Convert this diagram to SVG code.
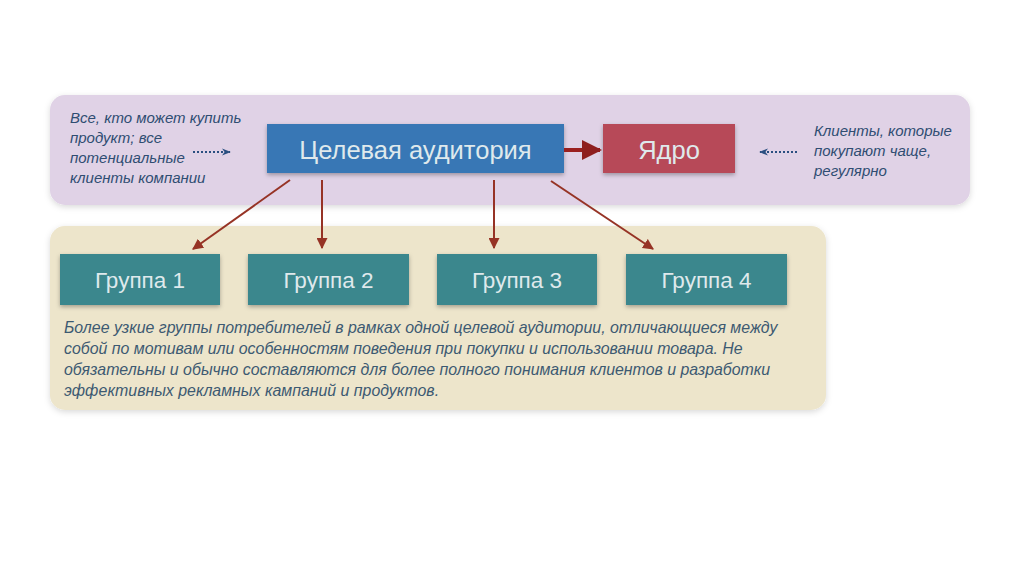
<svg xmlns="http://www.w3.org/2000/svg" width="1024" height="574" viewBox="0 0 1024 574">
<style>
.panel{filter:url(#sh)}
.box{filter:url(#sh2)}
.lbl{font-family:"Liberation Sans",Arial,sans-serif;font-size:22.5px;fill:#dfe9ec;text-anchor:middle}
.big{font-size:25.5px}
.note{font-family:"Liberation Sans",Arial,sans-serif;font-style:italic;font-size:15px;fill:#2f4d72}
.para{font-family:"Liberation Sans",Arial,sans-serif;font-style:italic;font-size:15.9px;fill:#3d5a72}
.conn{stroke:#963325;stroke-width:2;fill:none}
.dot{stroke:#2a4f80;stroke-width:2;stroke-dasharray:2 2;fill:none}
</style>
<defs>
<filter id="sh" x="-5%" y="-10%" width="110%" height="125%"><feDropShadow dx="0" dy="2" stdDeviation="3" flood-color="#000" flood-opacity="0.15"/></filter>
<filter id="sh2" x="-5%" y="-10%" width="110%" height="130%"><feDropShadow dx="0" dy="2" stdDeviation="2" flood-color="#000" flood-opacity="0.3"/></filter>
<marker id="ah" viewBox="0 0 10 10" refX="9" refY="5" markerWidth="5.5" markerHeight="5.5" orient="auto"><path d="M0,0 L10,5 L0,10 z" fill="#963325"/></marker>
<marker id="ahb" viewBox="0 0 10 10" refX="9" refY="5" markerWidth="5" markerHeight="5" orient="auto"><path d="M0,0 L10,5 L0,10 z" fill="#8f1f1f"/></marker>
<marker id="ahd" viewBox="0 0 10 10" refX="9" refY="5" markerWidth="4.5" markerHeight="4.5" orient="auto"><path d="M0,1 L10,5 L0,9 L3,5 z" fill="#2a4f80"/></marker>
</defs>
<rect width="1024" height="574" fill="#ffffff"/>
<g id="panel-top"><rect class="panel" x="50" y="95" width="920" height="110" rx="15" fill="#e0d2e6"/></g>
<g id="panel-bottom"><rect class="panel" x="50" y="226" width="776" height="184" rx="15" fill="#ede5cb"/></g>
<g id="note-left">
<text class="note" x="70" y="123">Все, кто может купить</text>
<text class="note" x="70" y="143">продукт; все</text>
<text class="note" x="70" y="163">потенциальные</text>
<text class="note" x="70" y="183">клиенты компании</text>
</g>
<g id="note-right">
<text class="note" x="814" y="136">Клиенты, которые</text>
<text class="note" x="814" y="156">покупают чаще,</text>
<text class="note" x="814" y="176">регулярно</text>
</g>
<g id="target"><rect class="box" x="267" y="124" width="297" height="49" fill="#3877b5"/><text class="lbl big" x="415.5" y="159">Целевая аудитория</text></g>
<g id="core"><rect class="box" x="603" y="124" width="132" height="49" fill="#b74a59"/><text class="lbl big" x="669" y="159">Ядро</text></g>
<g id="g1"><rect class="box" x="60" y="254" width="160" height="51" fill="#3b878d"/><text class="lbl" x="140" y="288">Группа 1</text></g>
<g id="g2"><rect class="box" x="248" y="254" width="161" height="51" fill="#3b878d"/><text class="lbl" x="328.5" y="288">Группа 2</text></g>
<g id="g3"><rect class="box" x="437" y="254" width="160" height="51" fill="#3b878d"/><text class="lbl" x="517" y="288">Группа 3</text></g>
<g id="g4"><rect class="box" x="626" y="254" width="161" height="51" fill="#3b878d"/><text class="lbl" x="706.5" y="288">Группа 4</text></g>
<g id="paragraph">
<text class="para" x="64" y="333">Более узкие группы потребителей в рамках одной целевой аудитории, отличающиеся между</text>
<text class="para" x="64" y="354">собой по мотивам или особенностям поведения при покупки и использовании товара. Не</text>
<text class="para" x="64" y="375">обязательны и обычно составляются для более полного понимания клиентов и разработки</text>
<text class="para" x="64" y="396">эффективных рекламных кампаний и продуктов.</text>
</g>
<g id="connectors">
<line x1="564" y1="150" x2="600" y2="150" stroke="#9a2020" stroke-width="4" marker-end="url(#ahb)"/>
<line class="conn" x1="290" y1="180" x2="193" y2="249" marker-end="url(#ah)"/>
<line class="conn" x1="322" y1="180" x2="322" y2="248" marker-end="url(#ah)"/>
<line class="conn" x1="494" y1="180" x2="494" y2="248" marker-end="url(#ah)"/>
<line class="conn" x1="551" y1="181" x2="653" y2="249" marker-end="url(#ah)"/>
<line class="dot" x1="193" y1="152" x2="230" y2="152" marker-end="url(#ahd)"/>
<line class="dot" x1="797" y1="152" x2="760" y2="152" marker-end="url(#ahd)"/>
</g>
</svg>
